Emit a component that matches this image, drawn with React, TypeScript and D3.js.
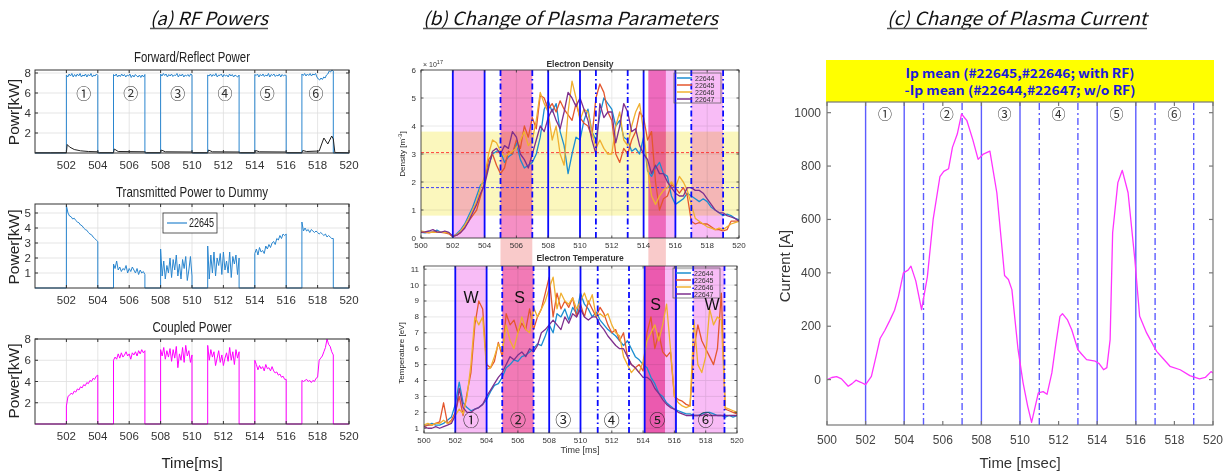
import React from 'react';
import * as d3 from 'd3';

// ---------- (a) RF powers ----------
const PULSES: [number, number][] = [[502, 504], [505, 507], [508, 510], [511, 513], [514, 516], [517, 519]];

const FWD_VALUES = [
  [7.8, 7.6, 7.9, 7.7, 7.95, 7.6, 7.85, 7.65, 7.9, 7.7, 7.95, 7.6, 7.8, 7.7, 7.9, 7.6, 7.85, 7.7, 7.95, 7.6, 7.8, 7.7, 7.9, 7.75],
  [7.85, 7.7, 7.9, 7.6, 7.8, 7.65, 7.9, 7.7, 7.85, 7.6, 7.8, 7.7, 7.9, 7.55, 7.8, 7.6, 7.85, 7.7, 7.6, 7.8, 7.55, 7.8, 7.6, 7.85],
  [7.9, 7.7, 7.95, 7.75, 7.9, 7.6, 7.85, 7.7, 7.9, 7.65, 7.8, 7.75, 7.95, 7.6, 7.85, 7.7, 7.9, 7.6, 7.8, 7.7, 7.85, 7.65, 7.9, 7.8],
  [7.8, 7.7, 7.9, 7.65, 7.85, 7.7, 7.95, 7.6, 7.8, 7.75, 7.9, 7.6, 7.85, 7.7, 7.8, 7.6, 7.9, 7.7, 7.85, 7.6, 7.8, 7.7, 7.6, 7.8],
  [7.85, 7.75, 7.9, 7.6, 7.85, 7.7, 7.9, 7.65, 7.8, 7.7, 7.95, 7.6, 7.85, 7.75, 7.9, 7.65, 7.8, 7.7, 7.9, 7.6, 7.85, 7.7, 7.8, 7.75],
  [7.9, 7.75, 7.95, 7.7, 7.9, 7.75, 7.95, 7.7, 7.9, 7.8, 7.95, 7.6, 7.4, 7.3, 7.5, 7.35, 7.6, 7.5, 7.8, 7.9, 8.2, 8.1, 8.3, 8.2],
];

const REFL_T = [500, 501, 502, 502.05, 502.2, 502.5, 502.9, 503.4, 504, 504.1, 505, 505.05, 505.3, 507, 507.1, 508, 508.05, 508.3, 510, 510.1, 511, 511.05, 511.3, 513, 513.1, 514, 514.05, 514.3, 516, 516.1, 517, 517.05, 517.3, 518.1, 518.4, 518.65, 518.9, 519.0, 519.1, 520];
const REFL_V = [0.02, 0.02, 0.03, 0.85, 0.6, 0.35, 0.22, 0.15, 0.12, 0.03, 0.03, 0.4, 0.15, 0.12, 0.03, 0.03, 0.3, 0.12, 0.1, 0.03, 0.03, 0.3, 0.12, 0.1, 0.03, 0.03, 0.25, 0.12, 0.1, 0.03, 0.03, 0.25, 0.15, 0.2, 1.5, 0.9, 1.7, 1.4, 0.05, 0.02];

const TRANS_VALUES = [
  [5.5, 5.0, 4.8, 4.75, 4.6, 4.65, 4.5, 4.4, 4.35, 4.2, 4.15, 4.0, 3.9, 3.85, 3.7, 3.6, 3.55, 3.4, 3.3, 3.2, 3.1],
  [1.6, 1.3, 1.8, 1.2, 1.4, 1.1, 1.3, 1.2, 1.5, 1.0, 1.3, 1.1, 1.4, 1.2, 1.0, 1.3, 0.9, 1.2, 1.0, 1.1, 0.9],
  [2.6, 0.8, 1.8, 0.6, 1.5, 1.0, 2.0, 0.7, 1.9, 1.2, 2.2, 0.8, 1.6, 0.6, 1.9, 1.3, 2.1, 0.5, 1.2, 2.1, 0.8],
  [2.8, 0.6, 2.2, 1.0, 2.4, 0.8, 2.0, 1.5, 2.3, 0.9, 2.4, 1.2, 1.8, 1.0, 2.4, 0.7, 2.1, 1.6, 2.2, 0.9, 2.0],
  [2.3, 2.6, 2.2, 2.7, 2.4, 2.5, 2.3, 2.8, 2.6, 2.9, 2.7, 3.0, 3.1, 2.9, 3.3, 3.2, 3.5, 3.3, 3.6, 3.5, 3.6],
  [4.4, 3.8, 4.0, 3.8, 3.9, 3.7, 3.9, 3.8, 3.7, 3.8, 3.7, 3.6, 3.7, 3.6, 3.5, 3.6, 3.4, 3.5, 3.4, 3.3, 3.3],
];

const COUPLED_VALUES = [
  [1.7, 2.6, 2.7, 2.9, 2.8, 3.1, 3.0, 3.3, 3.2, 3.5, 3.4, 3.7, 3.6, 3.9, 3.8, 4.1, 4.0, 4.3, 4.2, 4.5, 4.6],
  [6.0, 6.3, 6.1, 6.6, 6.2, 6.7, 6.3, 6.5, 6.8, 6.4, 6.6, 6.1, 6.7, 6.5, 6.8, 6.4, 6.9, 6.6, 7.0, 6.7, 6.9],
  [7.0, 6.4, 7.2, 6.1, 6.9, 6.3, 7.1, 5.9, 7.0, 6.2, 7.3, 5.3, 6.6, 6.0, 7.2, 5.8, 7.4, 6.4, 6.9, 5.8, 6.5],
  [7.4, 6.0, 7.0, 6.3, 6.8, 5.5, 6.2, 6.9, 5.8, 6.5, 5.5, 6.2, 6.7, 5.9, 7.2, 6.0, 6.8, 5.6, 7.0, 6.2, 6.8],
  [6.0, 5.6, 5.1, 5.5, 5.2, 5.4, 5.0, 5.6, 5.2, 5.3, 5.0, 5.4, 5.0, 4.8, 4.9, 4.6, 4.7, 4.4, 4.5, 4.2, 4.2],
  [4.1, 4.0, 4.1, 4.2, 4.0, 4.1, 3.9, 4.1, 4.0, 4.3, 4.4, 6.0, 6.2, 6.4, 6.8, 7.2, 8.0, 7.5, 7.3, 6.8, 6.5],
];

const CIRCLED = ['①', '②', '③', '④', '⑤', '⑥'];
const CIRC_A_X = [503.1, 506.1, 509.1, 512.1, 514.8, 517.9];

// ---------- (b) plasma parameters (samples every 0.25 ms, 500..520) ----------
const SHOTS = ['22644', '22645', '22646', '22647'];
const SHOT_COLORS = ['#1b8ed1', '#e4572e', '#f0b030', '#7e2f8e'];

const DENSITY = [
  [0.2, 0.18, 0.22, 0.2, 0.28, 0.2, 0.22, 0.18, 0.05, 0.15, 0.3, 0.5, 0.8, 1.1, 1.5, 1.9, 2.0, 2.6, 3.0, 3.1,
    3.1, 2.7, 2.9, 3.0, 3.4, 2.8, 2.5, 2.6, 2.7, 3.0, 3.6, 4.6, 4.9, 4.5, 4.8, 3.8, 3.3, 2.3, 3.0, 3.6,
    3.5, 4.2, 4.6, 3.8, 3.5, 4.4, 5.0, 4.8, 4.6, 4.0, 4.2, 3.6, 3.5, 3.1, 3.2, 3.0, 3.6, 2.4, 2.2, 2.5,
    2.7, 2.3, 2.2, 1.5, 1.2, 1.3, 1.4, 1.6, 1.5, 1.4, 1.3, 1.4, 1.3, 1.1, 1.0, 0.9, 0.8, 0.85, 0.8, 0.7, 0.65],
  [0.2, 0.2, 0.18, 0.22, 0.2, 0.2, 0.18, 0.15, 0.05, 0.1, 0.2, 0.4, 0.6, 0.8, 1.0, 1.5, 2.0, 2.8, 3.0, 2.6,
    2.3, 2.5, 3.1, 3.0, 3.5, 3.2, 4.0, 3.6, 4.3, 3.9, 5.1, 5.0, 4.6, 4.8, 4.5, 4.9, 4.6, 4.4, 4.2, 4.8,
    4.3, 4.1, 4.0, 3.6, 5.0, 5.5, 5.2, 4.5, 4.2, 3.0, 2.7, 3.2, 3.0, 3.5, 3.8, 4.5, 4.3, 3.5, 3.8, 2.0,
    1.0, 1.4, 1.5, 1.9, 1.8, 1.6, 1.8, 1.5, 0.6, 0.5, 0.55, 0.5, 0.5, 0.4, 0.3, 0.3, 0.25, 0.3, 0.6, 0.6, 0.6],
  [0.25, 0.22, 0.2, 0.2, 0.22, 0.2, 0.2, 0.18, 0.08, 0.12, 0.25, 0.45, 0.7, 1.0, 1.3, 1.8, 2.2, 3.0, 3.5, 3.4,
    3.1, 2.9, 3.0, 3.1, 3.2, 3.5, 3.8, 3.3, 3.5, 4.2, 5.2, 4.8, 4.5, 3.5, 4.0, 3.0, 2.6, 4.5, 5.6, 5.0,
    4.2, 4.6, 4.5, 3.8, 3.2, 3.5, 3.2, 3.0, 3.0, 4.0, 4.5, 3.5, 3.3, 4.0, 4.5, 4.8, 3.8, 2.5, 1.5, 1.2,
    1.5, 1.7, 1.8, 2.0, 1.8, 2.2, 2.0, 1.7, 1.2, 0.7, 0.6, 0.5, 0.4, 0.35, 0.3, 0.35, 0.3, 0.4, 0.5, 0.55, 0.6],
  [0.2, 0.22, 0.25, 0.3, 0.22, 0.2, 0.25, 0.2, 0.06, 0.1, 0.2, 0.35, 0.6, 0.9, 1.2, 1.6, 1.9, 2.5, 3.1, 3.2,
    3.0, 3.3, 3.2, 3.8, 3.6, 3.0, 2.8, 2.5, 3.0, 3.5, 4.0, 3.8, 4.3, 4.6, 4.2, 3.9, 4.5, 5.2, 5.0, 4.7,
    5.0, 4.6, 4.2, 3.5, 3.0, 4.8, 4.3, 4.5, 4.5, 3.4, 4.0, 4.8, 4.5, 3.8, 3.9, 3.3, 3.0, 2.8, 2.3, 2.6,
    2.3, 2.3, 2.0, 1.8, 1.6, 1.5, 1.5, 1.8, 1.8, 1.7, 1.7, 1.6, 1.4, 1.2, 1.0, 0.9, 0.9, 0.8, 0.75, 0.7, 0.6],
];

const TEMPERATURE = [
  [1.2, 1.2, 1.3, 1.2, 1.2, 1.3, 1.5, 1.7, 2.5, 3.9, 2.6, 2.3, 2.1, 2.2, 2.3, 2.5, 2.8, 3.3, 3.7, 3.8,
    4.2, 4.8, 5.0, 5.3, 5.2, 5.5, 5.6, 5.8, 6.0, 6.3, 6.2, 6.8, 7.5, 7.0, 8.2, 8.0, 8.5, 7.8, 8.6, 8.2,
    9.5, 8.8, 8.5, 8.0, 8.3, 7.8, 7.5, 7.2, 7.0, 6.8, 6.5, 6.2, 6.5, 6.0, 5.5, 5.3, 5.0, 4.8, 4.2, 3.8,
    3.2, 3.0, 2.6, 2.4, 2.2, 2.1, 2.0, 1.9, 1.9, 1.8, 1.8, 1.9, 2.0, 2.0, 1.9, 1.8, 1.8, 1.7, 1.8, 1.7, 1.8],
  [1.1, 1.2, 1.2, 1.3, 1.4, 2.6, 1.3, 1.5, 2.0, 3.0, 1.8, 3.2, 4.5, 7.5, 9.0, 8.5, 5.0, 4.8, 5.2, 6.4,
    5.5, 8.2, 7.5, 7.8, 7.0, 7.6, 7.2, 8.5, 7.2, 8.0, 8.5, 9.5, 10.5, 8.0, 9.5, 8.5, 9.0, 8.6, 9.2, 8.0,
    8.8, 8.0, 9.0, 8.5, 8.0, 8.6, 8.2, 7.5, 7.0, 7.2, 6.5, 7.0, 5.5, 5.0, 4.8, 5.0, 4.6, 7.0, 8.0, 6.0,
    7.0, 5.8, 5.5, 5.8, 3.0, 2.8, 2.7, 2.5, 2.4, 6.0, 7.5, 6.5, 6.0, 5.5, 5.0, 6.0, 9.5, 2.2, 2.1, 2.0, 1.9],
  [1.2, 1.3, 1.2, 1.3, 1.3, 1.5, 1.3, 1.4, 1.8, 2.2, 1.9, 3.0, 5.0, 8.0, 7.5, 8.0, 4.7, 4.8, 5.5, 6.3,
    5.8, 7.5, 6.5, 6.0, 7.0, 8.0, 7.2, 7.0, 8.6, 8.0, 8.5, 9.0, 9.8, 10.5, 8.5, 9.5, 9.0, 8.8, 9.2, 8.5,
    9.0, 9.5, 8.8, 9.4, 8.0, 8.2, 8.0, 8.2, 7.5, 7.0, 6.8, 5.5, 5.0, 4.5, 4.8, 4.5, 5.2, 6.5, 7.0, 7.5,
    6.5, 7.5, 8.8, 6.0, 3.0, 2.6, 2.4, 2.3, 2.4, 7.8, 5.0, 4.5, 5.5, 8.5, 7.5, 8.0, 7.8, 2.3, 2.2, 2.1, 2.0],
  [1.1, 1.0, 1.0, 1.1, 1.0, 1.1, 1.2, 1.3, 1.8, 3.5, 2.3, 2.0, 2.0, 2.2, 2.3, 2.5, 3.0, 3.4, 3.8, 4.2,
    4.5, 5.0, 5.5, 5.3, 5.6, 5.8, 5.5, 6.0, 5.8, 6.2, 7.0, 7.2, 7.5, 7.8, 7.5, 7.2, 8.0, 7.6, 8.2, 8.0,
    8.5, 8.0, 7.8, 8.0, 8.0, 7.5, 7.2, 6.8, 6.5, 6.2, 6.0, 6.0, 5.5, 5.0, 4.8, 4.5, 4.2, 4.2, 4.0, 3.5,
    3.2, 2.8, 2.5, 2.3, 2.2, 2.0, 1.9, 1.8, 1.8, 1.8, 1.8, 1.8, 1.9, 1.8, 1.8, 1.8, 1.8, 1.8, 1.8, 1.8, 1.8],
];

const B_SOLID_TOP = [502, 504, 508, 510, 514, 516];
const B_DASH_TOP = [505, 507, 511, 513, 517, 519];
const B_SOLID_BOT = [502, 504, 508, 510, 514.1, 516.1];
const B_DASH_BOT = [505, 507, 511.1, 513.1, 517.2, 519.2];
const MAGENTA_TOP: [number, number][] = [[502, 504], [514.3, 516], [517, 519]];
const HOTPINK_TOP: [number, number][] = [[505, 507], [514.3, 515.4]];
const MAGENTA_BOT: [number, number][] = [[502, 504], [514.1, 516.1], [517.2, 519.2]];
const HOTPINK_BOT: [number, number][] = [[505, 507], [514.1, 515.4]];
const YELLOW_BAND: [number, number] = [0.8, 3.8];
const RED_LEVEL = 3.05;
const BLUE_LEVEL = 1.8;
const CIRC_B_X = [503, 506, 508.9, 512, 514.9, 518];
const WS_LABELS: [string, number, number][] = [['W', 503.0, 9.2], ['S', 506.1, 9.2], ['S', 514.8, 8.75], ['W', 518.4, 8.75]];

// ---------- (c) plasma current ----------
const CUR_T = [500, 500.25, 500.5, 500.75, 501.1, 501.3, 501.5, 501.75, 502, 502.3, 502.55, 502.75, 503.0, 503.25, 503.5, 503.7, 503.96, 504.2, 504.35, 504.6, 504.9, 505.2, 505.5, 505.85, 506.05, 506.3, 506.5, 506.75, 506.97, 507.25, 507.55, 507.83, 508.1, 508.44, 508.8, 509.2, 509.4, 509.58, 509.9, 510.16, 510.4, 510.6, 510.95, 511.2, 511.4, 511.65, 511.85, 512.07, 512.2, 512.45, 512.68, 513.0, 513.2, 513.45, 513.9, 514.1, 514.33, 514.5, 514.67, 514.8, 515.07, 515.3, 515.6, 515.95, 516.2, 516.56, 517.08, 517.4, 517.77, 518.3, 518.8, 519.3, 519.6, 519.9, 520];
const CUR_V = [0, 8, 11, 3, -25, -15, -2, -10, -19, 12, 90, 154, 185, 221, 260, 311, 400, 410, 425, 370, 262, 385, 600, 760, 780, 790, 870, 920, 995, 970, 900, 825, 845, 856, 700, 390, 375, 337, 112, -12, -100, -160, -50, -45, -55, 25, 130, 237, 247, 225, 187, 112, 95, 75, 69, 60, 37, 45, 150, 550, 738, 784, 700, 450, 237, 175, 106, 80, 50, 37, 15, 3, 8, 30, 25];
const C_SOLID = [502, 504, 508, 510, 514, 516];
const C_DASH = [505, 507, 511, 513, 517, 519];
const CIRC_C_X = [503, 506.2, 509.2, 512, 515, 518];
const C_Y_TICKS = [0, 200, 400, 600, 800, 1000];

const EVEN_TICKS = d3.range(500, 521, 2);

type Pt = [number, number];
type S = d3.ScaleLinear<number, number>;

const evenSeries = (vals: number[]): Pt[] => vals.map((v, i) => [500 + (20 * i) / (vals.length - 1), v]);

function pulseTrace(vals: number[][]): Pt[] {
  const pts: Pt[] = [[500, 0]];
  PULSES.forEach(([s, e], k) => {
    const v = vals[k];
    pts.push([s, 0]);
    v.forEach((y, i) => pts.push([s + ((e - s) * i) / (v.length - 1), y]));
    pts.push([e, 0]);
  });
  pts.push([520, 0]);
  return pts;
}

const path = (xs: S, ys: S, pts: Pt[]) =>
  d3.line<Pt>().x(d => xs(d[0])).y(d => ys(d[1]))(pts) || '';

const NARROW = '"Liberation Sans Narrow", "Liberation Sans", Arial, sans-serif';
const SANS = '"Liberation Sans", Arial, sans-serif';
const KR = '"Noto Sans CJK KR", "Noto Sans", sans-serif';

function Grid({ xs, ys, xt, yt, color }: { xs: S; ys: S; xt: number[]; yt: number[]; color: string }) {
  const [l, r] = xs.range();
  const [b, t] = ys.range();
  return (
    <g stroke={color} strokeWidth={0.8}>
      {xt.map(v => <line key={'gx' + v} x1={xs(v)} x2={xs(v)} y1={b} y2={t} />)}
      {yt.map(v => <line key={'gy' + v} x1={l} x2={r} y1={ys(v)} y2={ys(v)} />)}
    </g>
  );
}

function Frame({ xs, ys, xt, yt, xl, yl, font, fs, color, text, tick, xGap, yGap, sw = 1 }:
  { xs: S; ys: S; xt: number[]; yt: number[]; xl: number[]; yl: number[]; font: string; fs: number; color: string; text: string; tick: number; xGap: number; yGap: number; sw?: number }) {
  const [l, r] = xs.range();
  const [b, t] = ys.range();
  return (
    <g>
      <rect x={l} y={t} width={r - l} height={b - t} fill="none" stroke={color} strokeWidth={sw} />
      <g stroke={color} strokeWidth={sw}>
        {xt.map(v => (
          <g key={'tx' + v}>
            <line x1={xs(v)} x2={xs(v)} y1={b} y2={b - tick} />
            <line x1={xs(v)} x2={xs(v)} y1={t} y2={t + tick} />
          </g>
        ))}
        {yt.map(v => (
          <g key={'ty' + v}>
            <line x1={l} x2={l + tick} y1={ys(v)} y2={ys(v)} />
            <line x1={r} x2={r - tick} y1={ys(v)} y2={ys(v)} />
          </g>
        ))}
      </g>
      <g fontFamily={font} fontSize={fs} fill={text}>
        {xl.map(v => (
          <text key={'lx' + v} x={xs(v)} y={b + xGap} textAnchor="middle">{v}</text>
        ))}
        {yl.map(v => (
          <text key={'ly' + v} x={l - yGap} y={ys(v)} textAnchor="end" dominantBaseline="central">{v}</text>
        ))}
      </g>
    </g>
  );
}

function Title({ x, y, w, label }: { x: number; y: number; w: number; label: string }) {
  return (
    <g>
      <text x={x} y={y} fontFamily={KR} fontStyle="italic" fontSize={18} fill="#111"
        textLength={w} lengthAdjust="spacingAndGlyphs">{label}</text>
      <line x1={x} x2={x + w} y1={y + 3.5} y2={y + 3.5} stroke="#555" strokeWidth={1.3} />
    </g>
  );
}

function SubTitle({ y, w, label }: { y: number; w: number; label: string }) {
  return (
    <text x={192 - w / 2} y={y} fontFamily={NARROW} fontSize={14} fill="#222"
      textLength={w} lengthAdjust="spacingAndGlyphs">{label}</text>
  );
}

function PanelA() {
  const xs = d3.scaleLinear().domain([500, 520]).range([35, 349]);
  const y1 = d3.scaleLinear().domain([0, 8.3]).range([153, 70]);
  const y2 = d3.scaleLinear().domain([0, 5.6]).range([288, 204]);
  const y3 = d3.scaleLinear().domain([0, 8]).range([424, 339]);
  const xt = EVEN_TICKS.slice(1);
  const blue = '#2a86cf';
  const common = { font: NARROW, fs: 11.5, color: '#333', text: '#333', tick: 3, xGap: 16, yGap: 4 };
  const ylab = (y: number, label: string) => (
    <text transform={`translate(19,${y}) rotate(-90)`} textAnchor="middle" fontFamily={SANS} fontSize={15.5} fill="#222">{label}</text>
  );
  return (
    <g>
      {/* Forward / reflect */}
      <Grid xs={xs} ys={y1} xt={xt} yt={[2, 4, 6, 8]} color="#dedede" />
      <path d={path(xs, y1, pulseTrace(FWD_VALUES))} fill="none" stroke={blue} strokeWidth={1} />
      <path d={path(xs, y1, REFL_T.map((t, i) => [t, REFL_V[i]] as Pt))} fill="none" stroke="#222" strokeWidth={1} />
      <Frame xs={xs} ys={y1} xt={xt} yt={[2, 4, 6, 8]} xl={xt} yl={[2, 4, 6, 8]} {...common} />
      {CIRC_A_X.map((v, i) => (
        <text key={'ca' + i} x={xs(v)} y={y1(6.1)} textAnchor="middle" dominantBaseline="central" fontFamily={KR} fontSize={15} fill="#333">{CIRCLED[i]}</text>
      ))}
      <SubTitle y={62} w={116} label="Forward/Reflect Power" />
      {ylab(112, 'Powr[kW]')}

      {/* Transmitted */}
      <Grid xs={xs} ys={y2} xt={xt} yt={[1, 2, 3, 4, 5]} color="#dedede" />
      <path d={path(xs, y2, pulseTrace(TRANS_VALUES))} fill="none" stroke={blue} strokeWidth={1} />
      <Frame xs={xs} ys={y2} xt={xt} yt={[1, 2, 3, 4, 5]} xl={xt} yl={[1, 2, 3, 4, 5]} {...common} />
      <rect x={163} y={213} width={54} height={20} fill="#fff" stroke="#333" strokeWidth={0.8} />
      <line x1={167} x2={187} y1={223} y2={223} stroke={blue} strokeWidth={1.2} />
      <text x={189} y={227} fontFamily={NARROW} fontSize={12} fill="#222" textLength={25} lengthAdjust="spacingAndGlyphs">22645</text>
      <SubTitle y={197} w={152} label="Transmitted Power to Dummy" />
      {ylab(247, 'Power[kW]')}

      {/* Coupled */}
      <Grid xs={xs} ys={y3} xt={xt} yt={[2, 4, 6, 8]} color="#dedede" />
      <path d={path(xs, y3, pulseTrace(COUPLED_VALUES))} fill="none" stroke="#ff00ff" strokeWidth={1} />
      <Frame xs={xs} ys={y3} xt={xt} yt={[2, 4, 6, 8]} xl={xt} yl={[2, 4, 6, 8]} {...common} />
      <SubTitle y={332} w={79} label="Coupled Power" />
      {ylab(381, 'Power[kW]')}
      <text x={192} y={468} textAnchor="middle" fontFamily={NARROW} fontSize={15} fill="#222">Time[ms]</text>
    </g>
  );
}

function Shading({ xs, ys, spans, color }: { xs: S; ys: S; spans: [number, number][]; color: string }) {
  const [b, t] = ys.range();
  return (
    <g>
      {spans.map(([a, c], i) => (
        <rect key={i} x={xs(a)} y={t} width={xs(c) - xs(a)} height={b - t} fill={color} style={{ mixBlendMode: 'multiply' }} />
      ))}
    </g>
  );
}

function VLines({ xs, ys, solid, dash }: { xs: S; ys: S; solid: number[]; dash: number[] }) {
  const [b, t] = ys.range();
  return (
    <g stroke="#0a0aff" strokeWidth={1.8}>
      {solid.map(v => <line key={'s' + v} x1={xs(v)} x2={xs(v)} y1={b} y2={t} />)}
      {dash.map(v => <line key={'d' + v} x1={xs(v)} x2={xs(v)} y1={b} y2={t} strokeDasharray="6,3,1.5,3" />)}
    </g>
  );
}

function Legend({ x, y }: { x: number; y: number }) {
  return (
    <g>
      <rect x={x} y={y} width={47} height={30} fill="none" stroke="#555" strokeWidth={0.7} />
      {SHOTS.map((s, i) => (
        <g key={s}>
          <line x1={x + 3} x2={x + 18} y1={y + 5 + i * 7} y2={y + 5 + i * 7} stroke={SHOT_COLORS[i]} strokeWidth={1.5} />
          <text x={x + 21} y={y + 7.5 + i * 7} fontFamily={SANS} fontSize={7} fill="#333">{s}</text>
        </g>
      ))}
    </g>
  );
}

function PanelB() {
  const xt = d3.scaleLinear().domain([500, 520]).range([421, 739]);
  const yt = d3.scaleLinear().domain([0, 6]).range([238, 70]);
  const xb = d3.scaleLinear().domain([500, 520]).range([424, 737]);
  const yb = d3.scaleLinear().domain([0.7, 11.2]).range([433, 266]);
  const dTicks = d3.range(0, 7);
  const tTicks = d3.range(1, 12);
  const common = { font: SANS, fs: 8, color: '#333', text: '#333', tick: 2.5, xGap: 10, yGap: 5, sw: 0.8 };
  return (
    <g>
      <defs>
        <clipPath id="clipBT"><rect x={421} y={70} width={318} height={168} /></clipPath>
        <clipPath id="clipBB"><rect x={424} y={266} width={313} height={167} /></clipPath>
      </defs>
      {/* connectors between the two panels */}
      {HOTPINK_TOP.map(([a, c], i) => (
        <rect key={'cn' + i} x={xt(a)} y={238} width={xt(c) - xt(a)} height={28} fill="#f9caca" />
      ))}

      {/* Electron density */}
      <Grid xs={xt} ys={yt} xt={EVEN_TICKS} yt={dTicks} color="#e4e4e4" />
      <rect x={421} y={yt(YELLOW_BAND[1])} width={318} height={yt(YELLOW_BAND[0]) - yt(YELLOW_BAND[1])} fill="#fbf7bd" style={{ mixBlendMode: 'multiply' }} />
      <Shading xs={xt} ys={yt} spans={MAGENTA_TOP} color="#f8bcf6" />
      <Shading xs={xt} ys={yt} spans={HOTPINK_TOP} color="#f58fc4" />
      <line x1={421} x2={739} y1={yt(RED_LEVEL)} y2={yt(RED_LEVEL)} stroke="#ff2a2a" strokeWidth={0.9} strokeDasharray="3,2" />
      <line x1={421} x2={739} y1={yt(BLUE_LEVEL)} y2={yt(BLUE_LEVEL)} stroke="#2a2aff" strokeWidth={0.9} strokeDasharray="3,2" />
      <g clipPath="url(#clipBT)">
        {DENSITY.map((vals, i) => (
          <path key={'d' + i} d={path(xt, yt, evenSeries(vals))} fill="none" stroke={SHOT_COLORS[i]} strokeWidth={1.3} strokeLinejoin="round" />
        ))}
      </g>
      <VLines xs={xt} ys={yt} solid={B_SOLID_TOP} dash={B_DASH_TOP} />
      <Frame xs={xt} ys={yt} xt={EVEN_TICKS} yt={dTicks} xl={EVEN_TICKS} yl={dTicks} {...common} />
      <Legend x={674} y={73} />
      <text x={580} y={67} textAnchor="middle" fontFamily={SANS} fontWeight="bold" fontSize={8.5} fill="#333">Electron Density</text>
      <text x={423} y={67} fontFamily={SANS} fontSize={7} fill="#333">× 10<tspan dy={-3} fontSize={5.5}>17</tspan></text>
      <text transform="translate(405,154) rotate(-90)" textAnchor="middle" fontFamily={SANS} fontSize={8} fill="#222">
        Density [m<tspan dy={-3} fontSize={6}>-3</tspan><tspan dy={3}>]</tspan>
      </text>

      {/* Electron temperature */}
      <Grid xs={xb} ys={yb} xt={EVEN_TICKS} yt={tTicks} color="#e4e4e4" />
      <Shading xs={xb} ys={yb} spans={MAGENTA_BOT} color="#f8bcf6" />
      <Shading xs={xb} ys={yb} spans={HOTPINK_BOT} color="#f27ab6" />
      <g clipPath="url(#clipBB)">
        {TEMPERATURE.map((vals, i) => (
          <path key={'t' + i} d={path(xb, yb, evenSeries(vals))} fill="none" stroke={SHOT_COLORS[i]} strokeWidth={1.3} strokeLinejoin="round" />
        ))}
      </g>
      <VLines xs={xb} ys={yb} solid={B_SOLID_BOT} dash={B_DASH_BOT} />
      <Frame xs={xb} ys={yb} xt={EVEN_TICKS} yt={tTicks} xl={EVEN_TICKS} yl={tTicks} {...common} />
      <Legend x={673} y={268} />
      {CIRC_B_X.map((v, i) => (
        <text key={'cb' + i} x={xb(v)} y={yb(1.6)} textAnchor="middle" dominantBaseline="central" fontFamily={KR} fontSize={16} fill="#222">{CIRCLED[i]}</text>
      ))}
      {WS_LABELS.map(([l, v, y], i) => (
        <text key={'ws' + i} x={xb(v)} y={yb(y)} textAnchor="middle" dominantBaseline="central" fontFamily={SANS} fontSize={16} fill="#111">{l}</text>
      ))}
      <text x={580} y={261} textAnchor="middle" fontFamily={SANS} fontWeight="bold" fontSize={8.5} fill="#333">Electron Temperature</text>
      <text x={580} y={453} textAnchor="middle" fontFamily={SANS} fontSize={9} fill="#333">Time [ms]</text>
      <text transform="translate(404,353) rotate(-90)" textAnchor="middle" fontFamily={SANS} fontSize={8} fill="#222">Temperature [eV]</text>
    </g>
  );
}

function PanelC() {
  const xs = d3.scaleLinear().domain([500, 520]).range([827, 1213]);
  const ys = d3.scaleLinear().domain([-170, 1040]).range([425, 102]);
  const pts = CUR_T.map((t, i) => [t, CUR_V[i]] as Pt);
  return (
    <g>
      <defs>
        <clipPath id="clipC"><rect x={827} y={102} width={386} height={323} /></clipPath>
      </defs>
      <rect x={826} y={60} width={388} height={42} fill="#ffff00" />
      <g fontFamily={KR} fontWeight="bold" fontSize={12.5} fill="#1a1adc">
        <text x={1020} y={78} textAnchor="middle" textLength={229} lengthAdjust="spacingAndGlyphs">Ip mean (#22645,#22646; with RF)</text>
        <text x={1020} y={95} textAnchor="middle" textLength={231} lengthAdjust="spacingAndGlyphs">-Ip mean (#22644,#22647; w/o RF)</text>
      </g>
      <g stroke="#5c5cff" strokeWidth={1.4}>
        {C_SOLID.map(v => <line key={'cs' + v} x1={xs(v)} x2={xs(v)} y1={425} y2={102} />)}
        {C_DASH.map(v => <line key={'cd' + v} x1={xs(v)} x2={xs(v)} y1={425} y2={102} strokeDasharray="7,3,2,3" />)}
      </g>
      <g clipPath="url(#clipC)">
        <path d={path(xs, ys, pts)} fill="none" stroke="#ff33ff" strokeWidth={1.3} strokeLinejoin="round" />
      </g>
      <Frame xs={xs} ys={ys} xt={EVEN_TICKS} yt={C_Y_TICKS} xl={EVEN_TICKS} yl={C_Y_TICKS}
        font={SANS} fs={12} color="#777" text="#444" tick={4} xGap={19} yGap={6} sw={1.2} />
      {CIRC_C_X.map((v, i) => (
        <text key={'cc' + i} x={xs(v)} y={113} textAnchor="middle" dominantBaseline="central" fontFamily={KR} fontSize={14} fill="#333">{CIRCLED[i]}</text>
      ))}
      <text x={1020} y={468} textAnchor="middle" fontFamily={SANS} fontSize={15} fill="#333">Time [msec]</text>
      <text transform="translate(790,266) rotate(-90)" textAnchor="middle" fontFamily={SANS} fontSize={15} fill="#333">Current [A]</text>
    </g>
  );
}

export default function App() {
  return (
    <svg width={1226} height={473} style={{ position: 'absolute', left: 0, top: 0 }}>
      <rect width={1226} height={473} fill="#fff" />
      <Title x={150} y={25} w={118} label="(a) RF Powers" />
      <Title x={423} y={25} w={295} label="(b) Change of Plasma Parameters" />
      <Title x={887} y={25} w={260} label="(c) Change of Plasma Current" />
      <PanelA />
      <PanelB />
      <PanelC />
    </svg>
  );
}
